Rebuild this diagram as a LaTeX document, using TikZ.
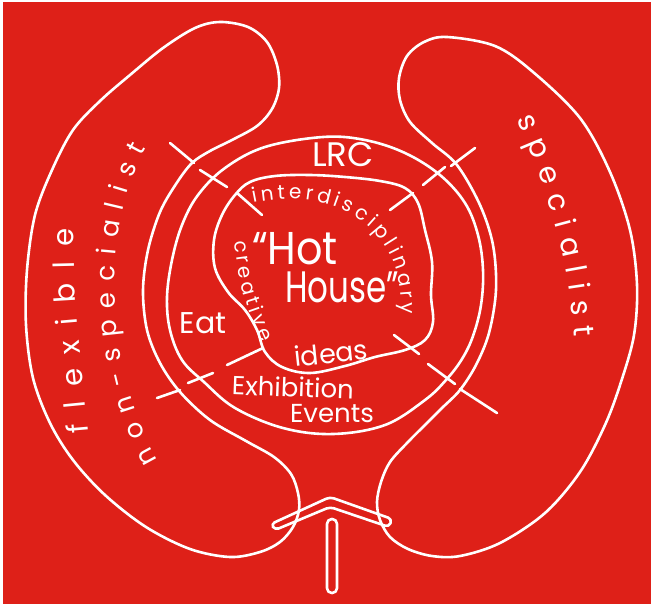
\documentclass[tikz,border=0pt]{standalone}
\usepackage{fontspec}
\setmainfont{Poppins}
\usetikzlibrary{decorations.text}
\definecolor{sketchred}{RGB}{222,32,24}
\newcommand\lobesize{\fontsize{14.5}{14.5}\selectfont}
\newcommand\blobsize{\fontsize{10}{10}\selectfont}
\tikzset{
  chalk/.style={draw=white, line width=1.3pt, line cap=round, line join=round},
  handtext/.style={text=white, inner sep=0pt},
  alongtext/.style={decorate, decoration={text along path, text color=white,
      text align={fit to path}, text={#1}}}
}

\begin{document}
\begin{tikzpicture}[x=0.5pt, y=-0.5pt]
  \useasboundingbox (0,0) rectangle (651,604);
  \fill[white] (0,0) rectangle (651,604);
  \fill[sketchred] (3,2) rectangle (651,604);
  % left lobe: flexible, non-specialist
  \draw[chalk] plot[smooth cycle, tension=0.55] coordinates {
    (220,22) (248,27) (267,42) (277,65) (279,88) (272,109) (257,126) (232,140)
    (210,151) (192,163) (176,184) (160,212) (148,250) (143,290) (147,330)
    (160,363) (180,392) (210,420) (246,441) (274,457) (291,474) (298,493)
    (299,510) (293,527) (280,542) (260,552) (230,557) (190,549) (146,527)
    (105,495) (73,460) (50,423) (33,378) (26,325) (27,270) (35,215) (52,170)
    (73,130) (100,101) (130,75) (163,48) (195,28)};
  % right lobe: specialist
  \draw[chalk] plot[smooth cycle, tension=0.55] coordinates {
    (447,37) (495,46) (533,72) (580,118) (610,172) (630,230) (637,285)
    (634,335) (621,382) (605,425) (580,472) (545,513) (500,543) (460,556)
    (432,556) (408,549) (390,537) (380,520) (377,502) (381,482) (390,462)
    (408,442) (428,422) (442,408) (460,390) (476,365) (489,333) (496,290)
    (493,245) (480,205) (457,165) (432,143) (410,122) (400,100) (399,78)
    (407,56) (424,42)};
  % LRC ring
  \draw[chalk] plot[smooth cycle, tension=0.6] coordinates {
    (323,137) (365,140) (405,153) (440,175) (465,203) (478,235) (483,270)
    (481,305) (473,336) (462,359) (446,380) (425,400) (385,425) (333,434)
    (283,428) (235,408) (204,382) (182,360) (170,330) (167,297) (172,260)
    (182,225) (198,195) (225,168) (265,147)};
  % hot house
  \draw[chalk] plot[smooth cycle, tension=0.6] coordinates {
    (250,182) (275,176) (310,175) (345,177) (380,181) (405,188) (418,203)
    (425,230) (432,262) (431,295) (433,322) (425,340) (405,350) (375,357)
    (345,366) (310,373) (282,367) (265,352) (257,330) (245,310) (228,292)
    (215,268) (214,240) (222,215) (235,195)};
  % cuts between the four parts
  \foreach \xa/\ya/\xb/\yb in {170/143/194/163, 200/170/227/187, 237/193/262/215,
      451/166/475/148, 423/185/445/167, 390/210/413/193,
      157/398/180/390, 188/383/213/373, 227/365/263/348,
      460/389/497/413, 428/364/455/384, 394/335/419/354}
    \draw[chalk] (\xa,\ya) -- (\xb,\yb);
  % entrance
  \draw[chalk, rounded corners=2pt] (271,524) -- (330,497) -- (392,519)
    -- (389,527) -- (330,507) -- (275,530) -- cycle;
  \draw[chalk, rounded corners=2.4pt] (327,519) rectangle (337,593);
  % labels
  \node[handtext, font=\fontsize{17}{17}\selectfont] (lrc) at (343,155) {LRC};
  \node[handtext, font=\fontsize{23}{23}\selectfont, xscale=0.9] (hot) at (295,249) {“Hot};
  \node[handtext, font=\fontsize{22}{22}\selectfont, xscale=0.74] (house) at (342,287) {House”};
  \node[handtext, font=\fontsize{15}{15}\selectfont] (eat) at (203,323) {Eat};
  \node[handtext, font=\fontsize{13.5}{13.5}\selectfont, rotate=6] (ideas) at (331,353) {ideas};
  \node[handtext, font=\fontsize{13}{13}\selectfont, rotate=-2] (exhib) at (293,387) {Exhibition};
  \node[handtext, font=\fontsize{13}{13}\selectfont] (events) at (332,414) {Events};
  % curved labels
  \path[alongtext={|\lobesize|flexible}]
    (88,432) .. controls (82,360) and (72,300) .. (74,228);
  \path[alongtext={|\fontsize{13}{13}\selectfont|non-specialist}]
    (158,460) .. controls (105,370) and (100,230) .. (146,148);
  \path[alongtext={|\lobesize|specialist}]
    (516,120) .. controls (545,180) and (568,250) .. (574,337);
  \path[alongtext={|\blobsize|interdisciplinary}]
    (253,203) .. controls (340,185) and (405,230) .. (401,314);
  \path[alongtext={|\fontsize{10}{10}\selectfont|creative}]
    (235,241) .. controls (237,280) and (249,315) .. (262,343);
\end{tikzpicture}
\end{document}
